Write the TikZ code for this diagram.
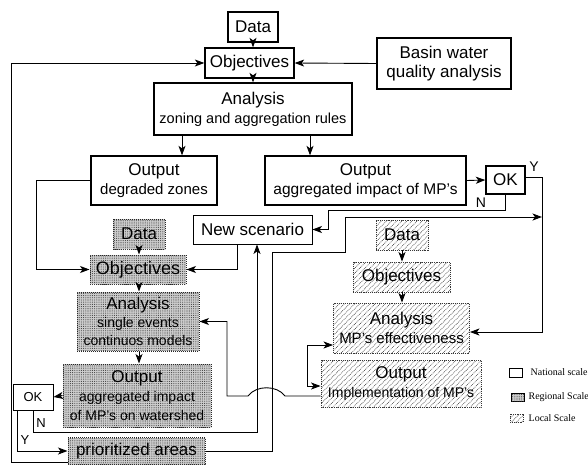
\documentclass[tikz,border=0pt]{standalone}
\usepackage{fontspec}
\setmainfont{Liberation Sans}
\newfontfamily\legendfont{Liberation Serif}
\usetikzlibrary{arrows.meta,patterns,patterns.meta,calc}

\newcommand\fsz[2]{\fontsize{#1}{#2}\selectfont}

\tikzset{
  box/.style={inner sep=0pt, align=center, font=\fsz{17}{19}},
  nat/.style={box, draw, line width=1.3pt, fill=white},
  reg/.style={box, draw=black!85, densely dotted, line width=1pt, fill=gray!40,
    postaction={pattern={Dots[distance=2.2pt,radius=0.55pt]}, pattern color=black!75}},
  loc/.style={box, draw=black!80, densely dotted, line width=0.9pt, fill=white,
    postaction={pattern={Lines[angle=45,distance=3.6pt,line width=0.6pt]}, pattern color=black!70}},
  arr/.style={line width=0.9pt, -{Stealth[length=9.5pt,width=7pt,inset=2.5pt]}},
  twoarr/.style={line width=0.9pt, {Stealth[length=9.5pt,width=7pt,inset=2.5pt]}-{Stealth[length=9.5pt,width=7pt,inset=2.5pt]}},
  lbl/.style={inner sep=0pt, font=\fsz{14}{16}},
  legtxt/.style={anchor=west, inner sep=0pt, font=\legendfont\fsz{10}{12}}
}

\begin{document}
\begin{tikzpicture}[x=1pt,y=-1pt]
\useasboundingbox (0,0) rectangle (588,465);

% national scale
\node[nat, minimum width=50pt, minimum height=30pt] (dataN) at (253,27) {Data};
\node[nat, minimum width=89pt, minimum height=30pt] (objN) at (249.5,63) {Objectives};
\node[nat, minimum width=134pt, minimum height=51pt] (basin) at (444,63.5) {Basin water\\quality analysis};
\node[nat, minimum width=198pt, minimum height=52pt] (anaN) at (253,109) {Analysis\\\fsz{14.5}{19}zoning and aggregation rules};
\node[nat, minimum width=126pt, minimum height=49pt] (outDeg) at (154,180.5) {Output\\\fsz{15}{19}degraded zones};
\node[nat, minimum width=201pt, minimum height=49pt] (outAgg) at (365.5,180.5) {Output\\\fsz{15.5}{19}aggregated impact of MP's};
\node[nat, minimum width=39pt, minimum height=28pt] (okN) at (505.5,180) {OK};
\node[nat, line width=0.9pt, minimum width=119pt, minimum height=29pt] (newSc) at (252.5,229.5) {New scenario};

% regional scale
\node[reg, minimum width=52pt, minimum height=30pt] (dataR) at (139,234) {Data};
\node[reg, minimum width=96pt, minimum height=29pt, font=\fsz{18}{20}] (objR) at (138,269.5) {Objectives};
\node[reg, minimum width=122pt, minimum height=59pt, font=\fsz{17}{18}] (anaR) at (138,321.5) {Analysis\\\fsz{14}{17}single events\\\fsz{14}{17}continuos models};
\node[reg, minimum width=148pt, minimum height=63pt, font=\fsz{17}{19}] (outR) at (137,395.5) {Output\\\fsz{14}{17}aggregated impact\\\fsz{14}{17}of MP's on watershed};
\node[nat, line width=0.9pt, minimum width=40pt, minimum height=26pt, font=\fsz{13}{15}] (okR) at (33,397) {OK};
\node[reg, minimum width=137pt, minimum height=27pt] (prio) at (136.5,451) {prioritized areas};

% local scale
\node[loc, minimum width=52pt, minimum height=30pt] (dataL) at (402,235) {Data};
\node[loc, minimum width=97pt, minimum height=30pt] (objL) at (401.5,277) {Objectives};
\node[loc, minimum width=136pt, minimum height=50pt, font=\fsz{17}{19}] (anaL) at (401.5,328) {Analysis\\\fsz{15}{19}MP's effectiveness};
\node[loc, minimum width=160pt, minimum height=47pt] (outL) at (401,383.5) {Output\\\fsz{14}{18}Implementation of MP's};

% legend
\node[nat, line width=0.9pt, minimum width=13pt, minimum height=9pt] (lgN) at (515.5,372.5) {};
\node[legtxt] (lgNt) at ($(lgN.east)+(8,0)$) {National scale};
\node[reg, solid, line width=0.8pt, draw=black, minimum width=13pt, minimum height=8pt] (lgR) at (517.5,397) {};
\node[legtxt] (lgRt) at ($(lgR.east)+(4,0)$) {Regional Scale};
\node[loc, minimum width=13pt, minimum height=8pt] (lgL) at (516.5,418) {};
\node[legtxt] (lgLt) at ($(lgL.east)+(5,0)$) {Local Scale};

% national flow
\draw[arr] (dataN.south) -- (dataN.south |- objN.north);
\draw[arr] (basin.west) -- (objN.east);
\draw[arr] (dataN.south |- objN.south) -- (dataN.south |- anaN.north);
\draw[arr] (anaN.south -| 182,0) -- (outDeg.north -| 182,0);
\draw[arr] (anaN.south -| 310,0) -- (outAgg.north -| 310,0);
\draw[arr] (outAgg.east) -- (okN.west);
\draw[arr] (outDeg.west) -- ++(-54,0) |- (objR.west);

% decision at national scale
\draw[arr] (okN.south) -- ++(0,16) -| ($(newSc.east)+(16,0)$) -- (newSc.east);
\node[lbl] (nTop) at (481,203) {N};
\draw[arr] ($(okN.east)+(0,-3)$) -- ++(17,0) |- ($(anaL.east)+(0,4)$);
\node[lbl] (yTop) at (534,167) {Y};
\draw[arr] (newSc.south -| 237,0) |- (objR.east);

% regional flow
\draw[arr] (dataR.south) -- (dataR.south |- objR.north);
\draw[arr] (dataR.south |- objR.south) -- (dataR.south |- anaR.north);
\draw[arr] (dataR.south |- anaR.south) -- (dataR.south |- outR.north);
\draw[arr] (outR.west) -- (okR.east);
\draw[arr] (okR.south) |- (257,432) -- (newSc.south -| 257,0);
\node[lbl, font=\fsz{13}{15}] (nLow) at (41,423) {N};
\draw[arr] ($(okR.south west)+(5,0)$) |- (prio.west);
\node[lbl, font=\fsz{13}{15}] (yLow) at (25,440) {Y};
\draw[arr] ($(prio.south west)+(0,-3)$) -| ($(objN.west)+(-193,0)$) -- (objN.west);
\draw[arr] (prio.east) -| (272,252) -| (345,217) -- (542,217);

% local flow
\draw[arr] (dataL.south) -- (dataL.south |- objL.north);
\draw[arr] (dataL.south |- objL.south) -- (dataL.south |- anaL.north);
\draw[twoarr] ($(anaL.west)+(0,17)$) -- ++(-26,0) |- ($(outL.west)+(0,2.5)$);
\draw[arr] ($(outL.west)+(0,12.5)$) -- (285,396)
  .. controls (277,385) and (256,385) .. (248,396) -- (227,396) |- (anaR.east);
\end{tikzpicture}
\end{document}
